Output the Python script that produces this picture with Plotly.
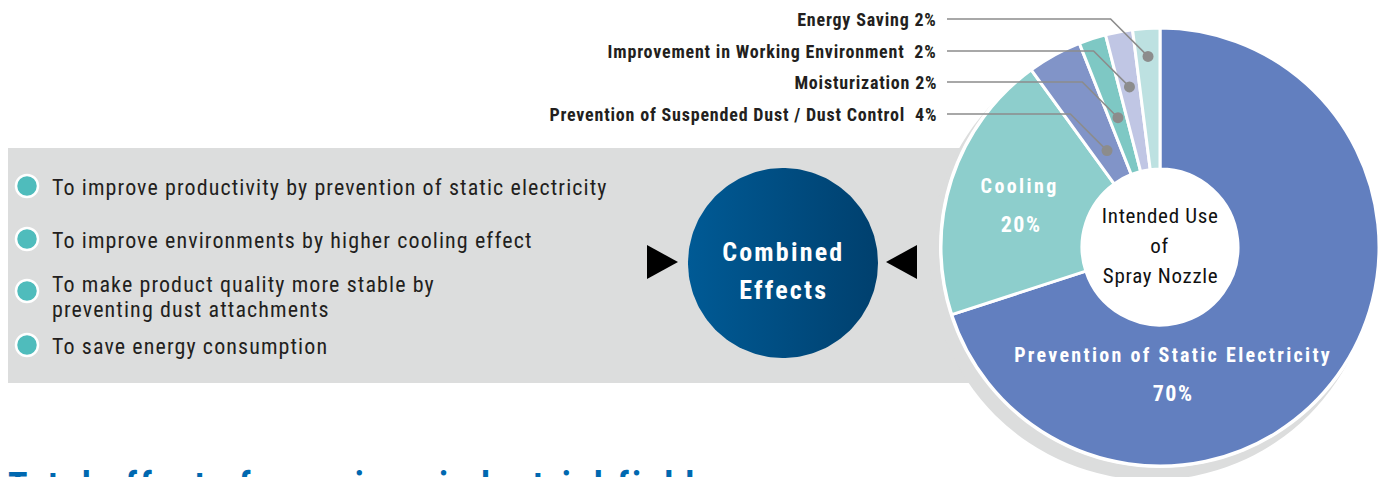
import json
import numpy as np
import plotly.graph_objects as go

# ---------------- data ----------------
uses = ["Prevention of Static Electricity", "Cooling",
        "Prevention of Suspended Dust / Dust Control", "Moisturization",
        "Improvement in Working Environment", "Energy Saving"]
shares = [70, 20, 4, 2, 2, 2]
slice_colors = ["#627fbf", "#8dcecc", "#8194c8", "#7ec8c4", "#c0c6e4", "#bde1e1"]

minor_labels = ["Energy Saving 2%", "Improvement in Working Environment  2%",
                "Moisturization 2%", "Prevention of Suspended Dust / Dust Control  4%"]
minor_index = [5, 4, 3, 2]          # which slice each callout points at

effects = ["To improve productivity by prevention of static electricity",
           "To improve environments by higher cooling effect",
           "To make product quality more stable by<br>preventing dust attachments",
           "To save energy consumption"]

center_title = ["Intended Use", "of", "Spray Nozzle"]
combined_text = ["Combined", "Effects"]
heading = "Total effects for various industrial fields"

# ---------------- geometry / style ----------------
W, H = 1384, 477
CX, CY, R = 1160, 247, 219
HOLE = 78

NARROW = "Roboto Condensed, Liberation Sans Narrow, Arial Narrow, Liberation Sans, sans-serif"

fig = go.Figure()

# combined effects circle (gradient)
t = np.linspace(0, 2 * np.pi, 200)
fig.add_trace(go.Scatter(
    x=783 + 95 * np.cos(t), y=263 + 95 * np.sin(t),
    fill="toself", mode="lines", line=dict(width=0),
    fillgradient=dict(type="horizontal",
                      colorscale=[[0, "#005a95"], [1, "#00406e"]]),
    hoverinfo="skip", showlegend=False))

# bullets
bullet_y = [186, 239, 291, 345]
fig.add_trace(go.Scatter(
    x=[27] * 4, y=bullet_y, mode="markers",
    marker=dict(size=22, color="#4fbcbc", line=dict(color="white", width=2.5)),
    hoverinfo="skip", showlegend=False))

# the pie
fig.add_trace(go.Pie(
    labels=uses, values=shares, sort=False, direction="clockwise", rotation=0,
    hole=HOLE / R, textinfo="none", hoverinfo="skip", showlegend=False,
    marker=dict(colors=slice_colors, line=dict(color="white", width=3)),
    domain=dict(x=[(CX - R) / W, (CX + R) / W],
                y=[(H - CY - R) / H, (H - CY + R) / H])))

shapes = []
shapes.append(dict(type="rect", xref="x", yref="y", x0=8, x1=1000, y0=148, y1=383,
                   fillcolor="#dcdddd", line=dict(width=0), layer="below"))
shapes.append(dict(type="circle", xref="x", yref="y", x0=1152 - 222, x1=1152 + 222,
                   y0=258 - 222, y1=258 + 222, fillcolor="#dcdddd",
                   line=dict(width=0), layer="below"))
shapes.append(dict(type="circle", xref="x", yref="y", x0=CX - R - 2, x1=CX + R + 2,
                   y0=CY - R - 2, y1=CY + R + 2, fillcolor="white",
                   line=dict(width=0), layer="below"))
shapes.append(dict(type="path", xref="x", yref="y",
                   path="M 647 245 L 678 262 L 647 279 Z", fillcolor="black",
                   line=dict(width=0)))
shapes.append(dict(type="path", xref="x", yref="y",
                   path="M 917 245 L 886 262 L 917 279 Z", fillcolor="black",
                   line=dict(width=0)))

annotations = []
spacing = []


def note(spc, **kw):
    kw.setdefault("showarrow", False)
    kw.setdefault("xref", "x")
    kw.setdefault("yref", "y")
    annotations.append(kw)
    spacing.append(spc)


# callouts: dot placed at each slice's mid angle
total = sum(shares)
cum = np.cumsum([0] + shares)
label_y = [19, 51, 82, 114]
dot_r = [191, 163, 136, 110]
for lab, idx, ly, dr in zip(minor_labels, minor_index, label_y, dot_r):
    mid = (cum[idx] + cum[idx + 1]) / 2 / total * 2 * np.pi
    dx = CX + dr * np.sin(mid)
    dy = CY - dr * np.cos(mid)
    bx = dx - (dy - ly)
    shapes.append(dict(type="path", xref="x", yref="y",
                       path=f"M 947 {ly} L {bx:.1f} {ly} L {dx:.1f} {dy:.1f}",
                       line=dict(color="#8c8c8c", width=1.6), layer="above"))
    shapes.append(dict(type="circle", xref="x", yref="y",
                       x0=dx - 5.5, x1=dx + 5.5, y0=dy - 5.5, y1=dy + 5.5,
                       fillcolor="#8c8c8c", line=dict(width=0), layer="above"))
    note(0.8, x=939, y=ly, text=f"<b>{lab}</b>", xanchor="right", yanchor="middle",
         align="right", font=dict(family=NARROW, size=18, color="#231f20"))

# effects list
text_y = [187, 240, 284, 346]
for txt, ty in zip(effects, text_y):
    for k, line in enumerate(txt.split("<br>")):
        note(1.1, x=50, y=ty + 25 * k, text=line, align="left", xanchor="left",
             yanchor="middle", font=dict(family=NARROW, size=22, color="#231f20"))

# combined effects text
for k, line in enumerate(combined_text):
    note(2.2, x=783, y=252 + 38 * k, text=f"<b>{line}</b>", xanchor="center",
         yanchor="middle", font=dict(family=NARROW, size=26, color="white"))

# hole title
for k, line in enumerate(center_title):
    note(0.7, x=CX, y=216 + 30 * k, text=line, xanchor="center", yanchor="middle",
         font=dict(family=NARROW, size=21, color="#111111"))

# inside labels
mid_cool = (cum[1] + cum[2]) / 2 / total * 2 * np.pi
lx, lyc = CX + 148 * np.sin(mid_cool), CY - 148 * np.cos(mid_cool)
note(2.4, x=lx, y=lyc - 15, text=f"<b>{uses[1]}</b>", xanchor="center", yanchor="middle",
     font=dict(family=NARROW, size=20, color="white"))
note(1.5, x=lx + 2, y=lyc + 23, text=f"<b>{shares[1]}%</b>", xanchor="center",
     yanchor="middle", font=dict(family=NARROW, size=22, color="white"))
note(2.3, x=1173, y=355, text=f"<b>{uses[0]}</b>", xanchor="center", yanchor="middle",
     font=dict(family=NARROW, size=20, color="white"))
note(1.5, x=1173, y=393, text=f"<b>{shares[0]}%</b>", xanchor="center",
     yanchor="middle", font=dict(family=NARROW, size=22, color="white"))

# bottom heading (clipped by the canvas, as in the reference)
note(3.0, x=6, y=463, text=f"<b>{heading}</b>", xanchor="left", yanchor="top",
     align="left", font=dict(family=NARROW, size=36, color="#0068b0"))

fig.update_layout(
    width=W, height=H, margin=dict(l=0, r=0, t=0, b=0),
    paper_bgcolor="white", plot_bgcolor="white",
    xaxis=dict(range=[0, W], visible=False, fixedrange=True, domain=[0, 1]),
    yaxis=dict(range=[H, 0], visible=False, fixedrange=True, domain=[0, 1]),
    shapes=shapes, annotations=annotations)

js = ("document.body.style.margin='0';document.body.style.overflow='hidden';"
      "var sp=" + json.dumps(spacing) + ";"
      "document.querySelectorAll('g.annotation').forEach(function(g){"
      "var i=+g.getAttribute('data-index');var t=g.querySelector('text');"
      "if(t&&sp[i]){t.style.letterSpacing=sp[i]+'px';}});")

fig.write_html("out.html", config={"displayModeBar": False}, post_script=js)
